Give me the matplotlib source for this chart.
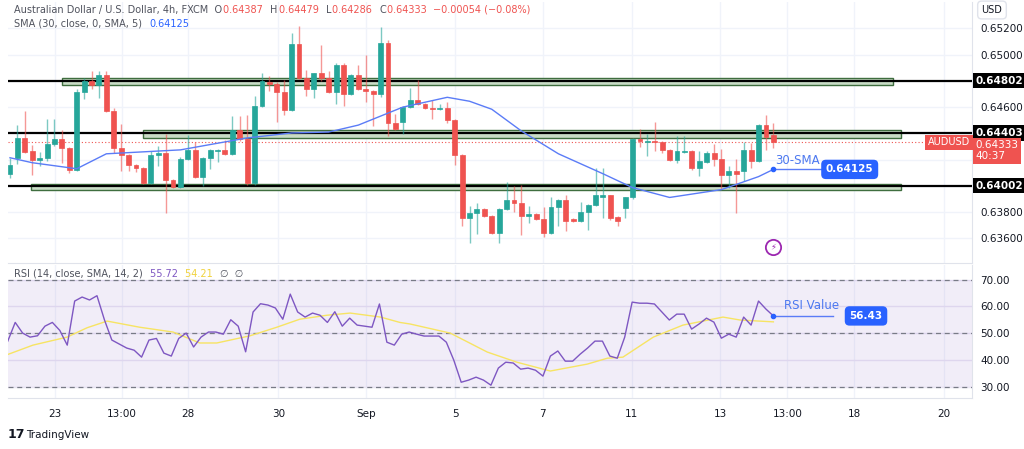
import numpy as np
import matplotlib
matplotlib.use('Agg')
import matplotlib.pyplot as plt
from matplotlib.patches import Rectangle

# OHLC (4h AUD/USD)
opens = [.64092, .64214, .64365, .64267, .64199, .64214, .64319, .64357, .64289, .64123,
         .64713, .64796, .64766, .64842, .64569, .64289, .64236, .64161, .64138, .64024,
         .64236, .64251, .64047, .63994, .64206, .64274, .64070, .64214, .64267, .64274,
         .64244, .64425, .64357, .64024, .64607, .64789, .64774, .64713, .64577, .65084,
         .64819, .64736, .64857, .64819, .64713, .64925, .64698, .64842, .64736, .64721,
         .64698, .65092, .64478, .64486, .64600, .64653, .64622, .64592, .64584, .64592,
         .64501, .64236, .63752, .63790, .63820, .63767, .63638, .63820, .63888, .63865,
         .63767, .63782, .63744, .63638, .63835, .63888, .63744, .63729, .63797, .63850,
         .63918, .63926, .63759, .63827, .63911, .64357, .64335, .64342, .64335, .64274,
         .64199, .64259, .64267, .64138, .64184, .64251, .64206, .64085, .64115, .64115,
         .64274, .64191, .64463, .64387]
highs = [.64214, .64463, .64569, .64312, .64259, .64509, .64509, .64425, .64297, .64736,
         .64819, .64872, .64872, .64872, .64592, .64471, .64244, .64168, .64145, .64267,
         .64304, .64395, .64055, .64221, .64388, .64335, .64221, .64282, .64282, .64350,
         .64531, .64531, .64539, .64683, .64857, .64834, .64789, .64804, .65167, .65220,
         .64887, .64864, .65077, .64872, .64940, .64933, .64849, .64925, .65001, .64728,
         .65213, .65114, .64547, .64607, .64743, .64804, .64630, .64653, .64622, .64637,
         .64509, .64244, .63843, .63865, .63827, .63775, .63827, .64032, .64002, .64009,
         .63843, .63790, .63835, .63918, .63896, .63933, .63752, .63873, .63858, .64138,
         .64138, .63933, .63767, .63918, .64365, .64433, .64395, .64486, .64342, .64282,
         .64380, .64380, .64274, .64267, .64267, .64319, .64282, .64153, .64206, .64335,
         .64327, .64471, .64539, .64479]
lows = [.64062, .64168, .64251, .64085, .64153, .64191, .64304, .64176, .64100, .64115,
        .64660, .64736, .64668, .64562, .64251, .64115, .64115, .64108, .64017, .64017,
        .64153, .63790, .63986, .63986, .64199, .64062, .64002, .64130, .64184, .64236,
        .64236, .64342, .64009, .64009, .64600, .64721, .64486, .64539, .64569, .64811,
        .64683, .64668, .64796, .64706, .64622, .64607, .64690, .64728, .64637, .64456,
        .64675, .64380, .64425, .64395, .64592, .64615, .64584, .64509, .64577, .64478,
        .64161, .63691, .63562, .63631, .63759, .63631, .63562, .63812, .63797, .63623,
        .63714, .63737, .63608, .63631, .63691, .63653, .63722, .63722, .63661, .63843,
        .63752, .63737, .63691, .63752, .63903, .64297, .64229, .64267, .64251, .64191,
        .64176, .64251, .64123, .64077, .64176, .64153, .63979, .63986, .63790, .64040,
        .64138, .64184, .64274, .64286]
closes = [.64161, .64365, .64259, .64199, .64214, .64319, .64357, .64289, .64123, .64713,
          .64796, .64766, .64842, .64569, .64289, .64236, .64161, .64138, .64024, .64236,
          .64251, .64047, .63994, .64206, .64274, .64070, .64214, .64274, .64274, .64244,
          .64425, .64357, .64024, .64607, .64796, .64774, .64713, .64577, .65084, .64819,
          .64736, .64857, .64819, .64713, .64925, .64698, .64842, .64736, .64721, .64698,
          .65092, .64478, .64433, .64600, .64653, .64622, .64592, .64584, .64592, .64501,
          .64236, .63752, .63790, .63820, .63767, .63638, .63820, .63888, .63865, .63767,
          .63782, .63744, .63638, .63835, .63888, .63729, .63729, .63797, .63850, .63926,
          .63926, .63752, .63729, .63911, .64357, .64342, .64342, .64335, .64274, .64199,
          .64267, .64267, .64138, .64191, .64251, .64206, .64085, .64115, .64092, .64274,
          .64191, .64463, .64372, .64333]

# 30-period SMA, sampled at candle positions
sma_idx = [0, 3, 9, 13, 23, 32, 38, 43, 47, 53, 59, 62, 65, 69, 74, 80, 84, 89, 96, 101, 103]
sma_val = [.64214, .64176, .64130, .64244, .64274, .64365, .64403, .64410, .64463, .64600,
           .64675, .64645, .64584, .64418, .64244, .64092, .63986, .63911, .63971, .64070, .64125]

# RSI(14) and its SMA
rsi = [47, 54, 50, 48.5, 49, 52.6, 54, 51, 45.5, 62, 63.5, 62.4, 64, 55, 47.4, 45.9, 44.4,
       43.6, 41, 47.4, 48, 42.5, 41.4, 48, 50, 44.8, 48.5, 50.4, 50.4, 49.6, 55, 52.6, 43,
       57.9, 61, 60.5, 59.4, 55.2, 64.6, 57.9, 56, 57.5, 56.7, 54, 58, 52.6, 55.6, 53, 52.6,
       52.2, 60.9, 46.6,
       45.5, 49.6, 50.4, 49.6, 48.9, 48.9, 48.9, 46.6, 39.9, 31.6, 32.4, 33.5, 32.4, 30.5,
       36.9, 39.1, 38.8, 36.5, 36.9, 36.1, 33.9, 41.4, 43.3, 39.5, 39.5, 42.1, 44.4, 47, 47,
       41.4, 40.6, 48.5, 61.6, 61.2, 61.2, 60.9, 57.9, 54.9, 57.1, 57.1, 51.5, 53.4, 55.6,
       54.1, 48.1, 49.6, 48.5, 56, 53, 62, 59, 56.43]
rsi_sma_idx = [-0.3, 3.1, 7.7, 10.4, 13.1, 17.5, 22, 25.6, 27.9, 32.4, 36, 39.1, 42.8, 45.9,
               50, 52.6, 54, 59.4, 64.4, 68.4, 72.9, 77.9, 80.6, 82.7, 86.8, 90.8, 96.2,
               98.5, 103]
rsi_sma = [42, 45.5, 48.5, 52, 54.5, 52.2, 50.4, 46.3, 46.3, 49, 52.2, 55.2, 56.7, 57.5,
           56, 54, 53.4, 50, 42.9, 39.1, 35.8, 38.4, 40.6, 41, 48.5, 53, 56, 54.9, 54.21]

levels = [0.64802, 0.64403, 0.64002]
zones = [(7.0, 119.2, 0.64766, 0.64819), (17.9, 120.2, 0.64365, 0.64425), (2.8, 120.2, 0.63971, 0.64017)]
price_grid = [0.636, 0.638, 0.640, 0.642, 0.644, 0.646, 0.648, 0.650, 0.652]
price_ticks = [0.636, 0.638, 0.646, 0.650, 0.652]   # others are hidden under level labels
date_pos = [6.1, 15.1, 24.0, 36.2, 48.0, 60.1, 71.9, 83.9, 95.8, 104.9, 113.9, 126.0]
date_lbl = ['23', '13:00', '28', '30', 'Sep', '5', '7', '11', '13', '13:00', '18', '20']

GREEN, RED = '#26a69a', '#ef5350'
SMA_C, RSI_C, RSI_Y = '#5b7cf7', '#7e57c2', '#f7e463'
TXT, GREY = '#131722', '#50535e'
plt.rcParams['font.family'] = 'DejaVu Sans'

W, H = 1024, 449
fig = plt.figure(figsize=(W / 100, H / 100), dpi=100)
xlim = (-0.27, 129.8)
ax = fig.add_axes([8 / W, (H - 263) / H, 964 / W, 261 / H])
ax2 = fig.add_axes([8 / W, (H - 398) / H, 964 / W, 133 / H])

for a in (ax, ax2):
    a.set_xlim(*xlim)
    a.set_xticks(date_pos)
    a.grid(True, axis='x', color='#f0f3fa', lw=1)
    a.set_axisbelow(True)
    for s in ('top', 'left'):
        a.spines[s].set_visible(False)
    a.spines['right'].set_color('#e0e3eb')
    a.spines['bottom'].set_color('#e0e3eb')
    a.yaxis.tick_right()
    a.tick_params(length=0, labelsize=7.5, colors=TXT, pad=6)

# price panel
ax.set_ylim(0.63411, 0.65402)
for g in price_grid:
    ax.axhline(g, color='#f0f3fa', lw=1, zorder=0)
ax.set_yticks(price_ticks)
ax.set_yticklabels([f'{t:.5f}' for t in price_ticks])
ax.tick_params(axis='x', labelbottom=False)

for x0, x1, y0, y1 in zones:
    ax.add_patch(Rectangle((x0, y0), x1 - x0, y1 - y0, facecolor='#c9dcc6',
                           edgecolor='#3f6e3f', lw=1, zorder=2))
for lv in levels:
    ax.axhline(lv, color='black', lw=1.6, zorder=3)

for i, (o, h, l, c) in enumerate(zip(opens, highs, lows, closes)):
    col = GREEN if c >= o else RED
    ax.vlines(i, l, h, color=col, lw=1, alpha=0.6, zorder=4)
    ax.add_patch(Rectangle((i - 0.33, min(o, c)), 0.66, max(abs(c - o), 0.00002),
                           facecolor=col, edgecolor=col, lw=0.5, zorder=5))

ax.plot(sma_idx, sma_val, color=SMA_C, lw=1, zorder=6)
ax.axhline(closes[-1], color=RED, lw=0.8, ls=(0, (1, 2)), zorder=3)

# 30-SMA callout
ax.plot([103, 109.5], [sma_val[-1], sma_val[-1]], color=SMA_C, lw=1, zorder=6)
ax.plot(103, sma_val[-1], 'o', color='#2962ff', ms=3, zorder=7)
ax.text(103.3, 0.6419, '30-SMA', color='#4c78f0', fontsize=8.5, va='center')
ax.text(113.3, sma_val[-1], '0.64125', color='white', fontsize=7.5, fontweight='bold',
        ha='center', va='center', zorder=8,
        bbox=dict(boxstyle='round,pad=0.45', fc='#2962ff', ec='none'))
ax.plot(103, 0.63532, 'o', ms=11, mfc='none', mec='#9c27b0', mew=1.3, zorder=7)
ax.text(103, 0.63532, '\u26a1', color='#9c27b0', fontsize=6, ha='center', va='center')

# right-axis labels
trans = ax.get_yaxis_transform()
for lv in levels:
    ax.text(1.004, lv, f'{lv:.5f}', transform=trans, color='white', fontsize=7.5,
            fontweight='bold', va='center', ha='left', clip_on=False, zorder=9,
            bbox=dict(boxstyle='square,pad=0.25', fc='black', ec='none'))
ax.text(1.004, closes[-1] - 0.00066, '0.64333\n40:37', transform=trans, color='white',
        fontsize=7.5, va='center', ha='left', clip_on=False, zorder=9, linespacing=1.1,
        bbox=dict(boxstyle='square,pad=0.25', fc=RED, ec='none'))
ax.text(0.998, closes[-1], 'AUDUSD', transform=trans, color='white', fontsize=7,
        va='center', ha='right', clip_on=False, zorder=9,
        bbox=dict(boxstyle='square,pad=0.25', fc=RED, ec='none'))
fig.text(992 / W, 1 - 10 / H, 'USD', fontsize=7, color=TXT, ha='center', va='center',
         bbox=dict(boxstyle='round,pad=0.4', fc='white', ec='#e0e3eb'))

# header: chain the pieces one after another
renderer = fig.canvas.get_renderer()


def chain(x_px, y_px, parts, size=7):
    for txt, col in parts:
        t = fig.text(x_px / W, 1 - y_px / H, txt, fontsize=size, color=col, va='center')
        x_px = t.get_window_extent(renderer).x1 + 1


chain(14, 10, [('Australian Dollar / U.S. Dollar, 4h, FXCM  O', GREY), ('0.64387  ', RED),
               ('H', GREY), ('0.64479  ', RED), ('L', GREY), ('0.64286  ', RED),
               ('C', GREY), ('0.64333  \u22120.00054 (\u22120.08%)', RED)])
chain(14, 24, [('SMA (30, close, 0, SMA, 5)  ', GREY), ('0.64125', '#2962ff')])

# RSI panel
ax2.set_ylim(25.7, 75.5)
ax2.set_yticks([30, 40, 50, 60, 70])
ax2.set_yticklabels(['30.00', '40.00', '50.00', '60.00', '70.00'])
ax2.grid(True, axis='y', color='#e9e5f3', lw=1)
ax2.axhspan(30, 70, color=RSI_C, alpha=0.1, lw=0)
for lv in (30, 50, 70):
    ax2.axhline(lv, color='#787b86', lw=0.9, ls=(0, (4, 3)))
ax2.set_xticklabels(date_lbl)
ax2.tick_params(axis='x', pad=8, colors=TXT, labelsize=7.5)
ax2.plot(rsi_sma_idx, rsi_sma, color=RSI_Y, lw=1)
ax2.plot(np.linspace(-0.3, 103, len(rsi)), rsi, color=RSI_C, lw=1)
ax2.plot([103, 111], [rsi[-1], rsi[-1]], color=SMA_C, lw=1)
ax2.plot(103, rsi[-1], 'o', color='#2962ff', ms=3)
ax2.text(104.5, 60.5, 'RSI Value', color='#4c78f0', fontsize=8.5, va='center')
ax2.text(115.5, rsi[-1], '56.43', color='white', fontsize=7.5, fontweight='bold',
         ha='center', va='center',
         bbox=dict(boxstyle='round,pad=0.45', fc='#2962ff', ec='none'))
chain(14, 274, [('RSI (14, close, SMA, 14, 2)  ', GREY), ('55.72  ', RSI_C),
                ('54.21  ', '#f0d23c'), ('\u2205  \u2205', GREY)])

# logo
fig.text(8 / W, 1 - 435 / H, '17', fontsize=9, fontweight='bold', color=TXT, va='center')
fig.text(26 / W, 1 - 435 / H, 'TradingView', fontsize=7.5, color=TXT, va='center')

fig.savefig('out.png', dpi=100)
